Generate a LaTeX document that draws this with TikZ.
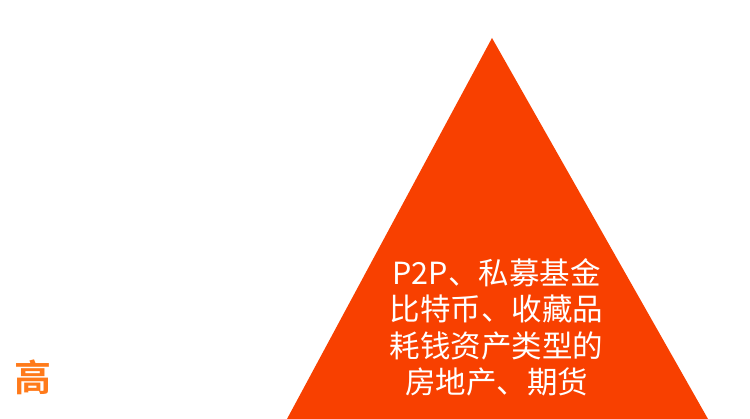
\documentclass[tikz,border=0pt]{standalone}
\usepackage{fontspec}
\newfontfamily\cjk{Noto Sans CJK SC}
\newfontfamily\cjkbold{Noto Sans CJK SC Bold}
\definecolor{tri}{HTML}{F84000}
\definecolor{hi}{HTML}{FF7A1A}
\begin{document}
\begin{tikzpicture}[x=1pt,y=1pt,
  lbl/.style={text=white,font=\cjk\fontsize{30.5}{36.3}\selectfont,align=center,inner sep=0pt},
  side/.style={text=hi,font=\cjkbold\fontsize{37}{42}\selectfont,inner sep=0pt}]
\useasboundingbox[fill=white] (0,0) rectangle (750,419);
\coordinate (apex) at (492,381);
\coordinate (bl) at (287,0);
\coordinate (br) at (708,0);
\fill[tri] (apex) -- (br) -- (bl) -- cycle;
\node[lbl] (txt) at (496.5,91.5) {P2P、私募基金\\比特币、收藏品\\耗钱资产类型的\\房地产、期货};
\node[side] (gao) at (33,42) {高};
\end{tikzpicture}
\end{document}
